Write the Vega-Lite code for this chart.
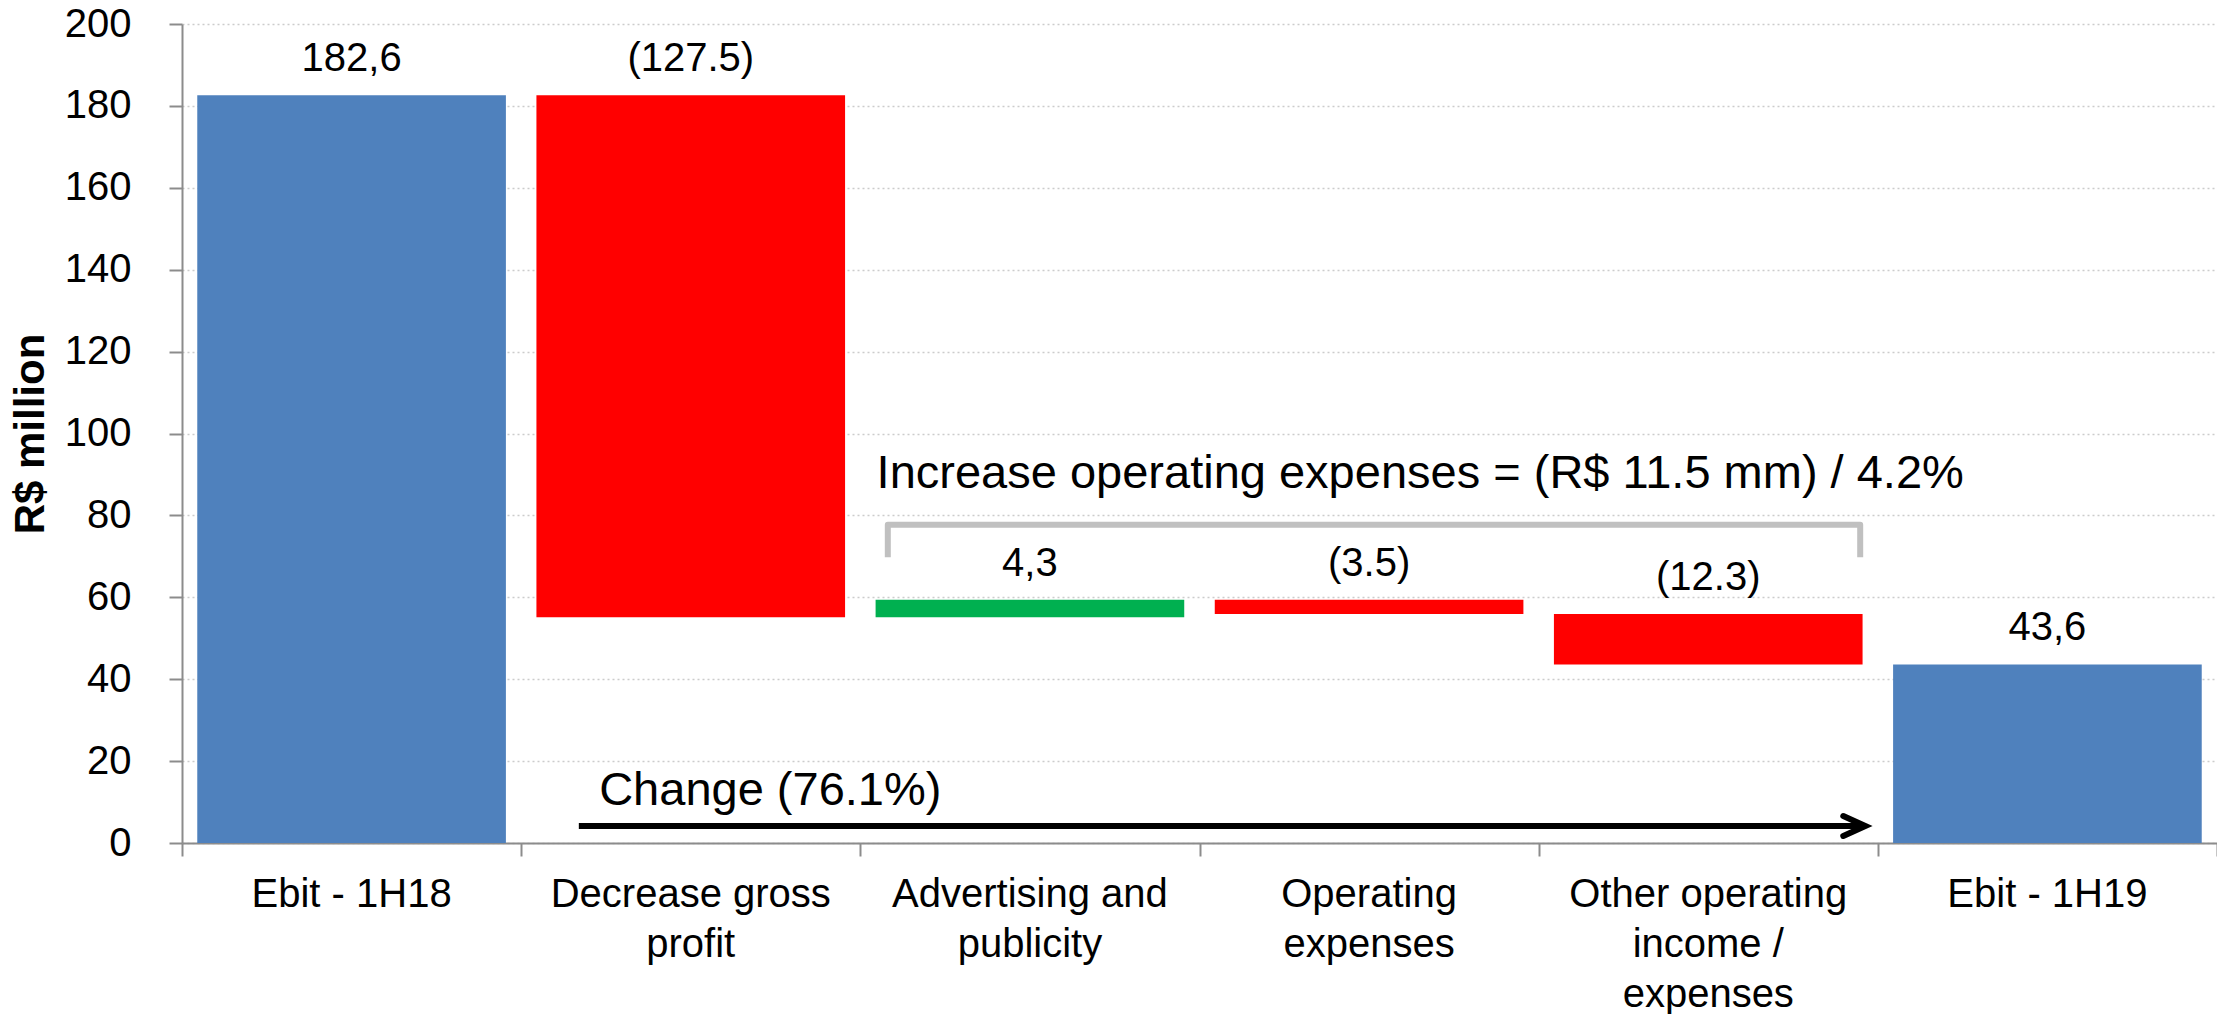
{
  "$schema": "https://vega.github.io/schema/vega-lite/v6.json",
  "width": 2035,
  "height": 819,
  "autosize": {"type": "none"},
  "padding": {"left": 182, "top": 24, "right": 0, "bottom": 171},
  "background": "white",
  "config": {"view": {"stroke": null}, "font": "Liberation Sans"},
  "datasets": {
    "bars": [
      {"cat": "Ebit - 1H18", "start": 0, "end": 182.6, "type": "total", "label": "182,6"},
      {"cat": "Decrease gross profit", "start": 182.6, "end": 55.1, "type": "dec", "label": "(127.5)"},
      {"cat": "Advertising and publicity", "start": 55.1, "end": 59.4, "type": "inc", "label": "4,3"},
      {"cat": "Operating expenses", "start": 59.4, "end": 55.9, "type": "dec", "label": "(3.5)"},
      {"cat": "Other operating income / expenses", "start": 55.9, "end": 43.6, "type": "dec", "label": "(12.3)"},
      {"cat": "Ebit - 1H19", "start": 0, "end": 43.6, "type": "total", "label": "43,6"}
    ],
    "bracket": [
      {"px": 2.081, "val": 69.8, "ord": 1},
      {"px": 2.081, "val": 77.7, "ord": 2},
      {"px": 4.948, "val": 77.7, "ord": 3},
      {"px": 4.948, "val": 69.8, "ord": 4}
    ],
    "arrow": [{"px": 1.17, "px2": 4.955, "val": 4.15}],
    "head": [{"px": 4.963, "val": 4.15}],
    "notes": [
      {"px": 2.048, "val": 86.7, "text": "Increase operating expenses = (R$ 11.5 mm) / 4.2%"},
      {"px": 1.23, "val": 9.28, "text": "Change (76.1%)"}
    ]
  },
  "resolve": {"scale": {"x": "independent"}, "axis": {"x": "independent"}},
  "layer": [
    {
      "data": {"name": "bars"},
      "layer": [
        {
          "mark": {"type": "bar"},
          "encoding": {
            "x": {
              "field": "cat", "type": "nominal", "sort": null,
              "scale": {"paddingInner": 0.09, "paddingOuter": 0.045},
              "axis": {
                "orient": "bottom", "title": null, "ticks": false, "tickSize": 0, "domain": false,
                "labelAngle": 0, "labelFontSize": 40, "labelColor": "black", "labelPadding": 31,
                "labelBaseline": "top", "labelLineHeight": 50, "labelLimit": 0,
                "labelExpr": "datum.label == 'Decrease gross profit' ? ['Decrease gross', 'profit'] : datum.label == 'Advertising and publicity' ? ['Advertising and', 'publicity'] : datum.label == 'Operating expenses' ? ['Operating', 'expenses'] : datum.label == 'Other operating income / expenses' ? ['Other operating', 'income /', 'expenses'] : datum.label"
              }
            },
            "y": {
              "field": "start", "type": "quantitative",
              "scale": {"domain": [0, 200], "nice": false},
              "axis": {
                "title": "R$ million", "values": [0, 20, 40, 60, 80, 100, 120, 140, 160, 180, 200],
                "tickSize": 13, "tickColor": "#8c8c8c", "tickWidth": 2,
                "domainColor": "#8c8c8c", "domainWidth": 2,
                "labelPadding": 38, "labelFontSize": 40, "labelColor": "black",
                "titleFontSize": 42, "titleFontWeight": "bold", "titleColor": "black", "titlePadding": 12,
                "grid": true, "gridColor": "#cccccc", "gridDash": [2, 3], "gridWidth": 1.5
              }
            },
            "y2": {"field": "end"},
            "color": {
              "field": "type", "type": "nominal", "legend": null,
              "scale": {"domain": ["total", "dec", "inc"], "range": ["#4F81BD", "#FF0000", "#00B050"]}
            }
          }
        },
        {
          "transform": [{"calculate": "max(datum.start, datum.end)", "as": "top"}],
          "mark": {"type": "text", "fontSize": 40, "baseline": "alphabetic", "align": "center", "dy": -24, "color": "black"},
          "encoding": {
            "x": {"field": "cat", "type": "nominal", "sort": null},
            "y": {"field": "top", "type": "quantitative", "title": "R$ million"},
            "text": {"field": "label"}
          }
        }
      ]
    },
    {
      "layer": [
        {
          "data": {"name": "bracket"},
          "mark": {"type": "line", "color": "#c0c0c0", "strokeWidth": 6, "strokeJoin": "round", "strokeCap": "butt"},
          "encoding": {
            "x": {
              "field": "px", "type": "quantitative",
              "scale": {"domain": [0, 6], "nice": false, "zero": false},
              "axis": {
                "orient": "bottom", "title": null, "values": [0, 1, 2, 3, 4, 5, 6], "labels": false,
                "grid": false, "tickSize": 13, "tickColor": "#8c8c8c", "tickWidth": 2,
                "domainColor": "#8c8c8c", "domainWidth": 2
              }
            },
            "y": {"field": "val", "type": "quantitative", "title": "R$ million"},
            "order": {"field": "ord"}
          }
        },
        {
          "data": {"name": "arrow"},
          "mark": {"type": "rule", "color": "black", "strokeWidth": 6},
          "encoding": {
            "x": {"field": "px", "type": "quantitative"},
            "x2": {"field": "px2"},
            "y": {"field": "val", "type": "quantitative", "title": "R$ million"}
          }
        },
        {
          "data": {"name": "head"},
          "mark": {"type": "point", "shape": "M-2,-0.9L0,0L-2,0.9", "filled": false, "stroke": "black", "strokeWidth": 6, "size": 484, "opacity": 1, "strokeJoin": "miter", "strokeCap": "round"},
          "encoding": {
            "x": {"field": "px", "type": "quantitative"},
            "y": {"field": "val", "type": "quantitative", "title": "R$ million"}
          }
        },
        {
          "data": {"name": "notes"},
          "mark": {"type": "text", "fontSize": 47, "align": "left", "baseline": "alphabetic", "color": "black"},
          "encoding": {
            "x": {"field": "px", "type": "quantitative"},
            "y": {"field": "val", "type": "quantitative", "title": "R$ million"},
            "text": {"field": "text"}
          }
        }
      ]
    }
  ]
}
